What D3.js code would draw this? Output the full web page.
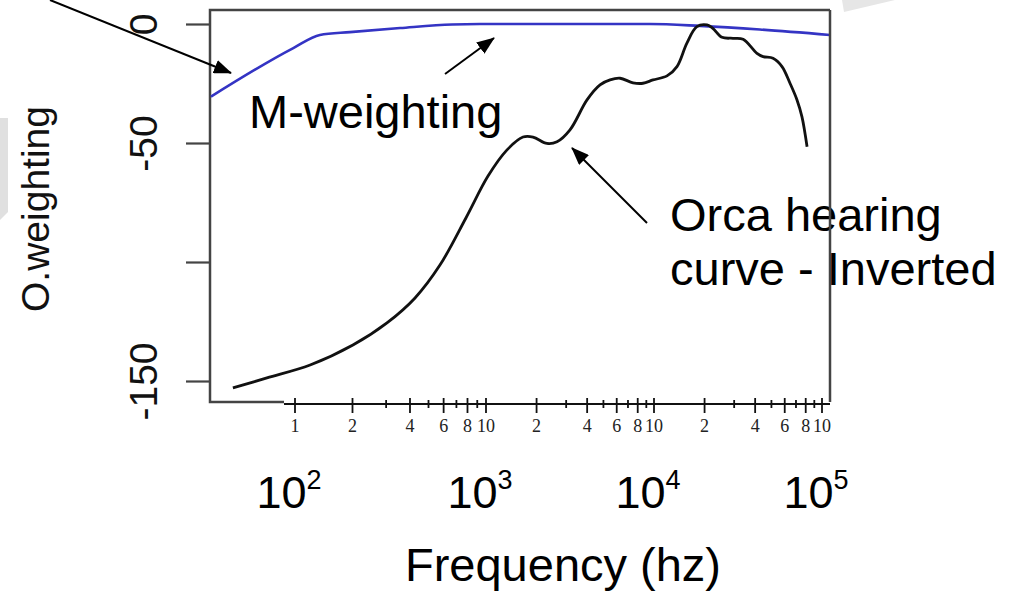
<!DOCTYPE html>
<html><head><meta charset="utf-8">
<script src="https://cdn.jsdelivr.net/npm/d3@7"></script>
<style>body{margin:0;background:#fff;} svg{display:block;}</style>
</head><body>
<svg id="c" width="1022" height="593"></svg>
<script>
// ---- data ----
const mFreq   = [36.3, 98, 135, 194, 355, 664, 930, 9460, 18800, 42700, 111600];
const mWeight = [-30.5, -10.1, -4.6, -3.4, -1.7, -0.2, 0, 0, -0.8, -2.3, -4.6];

const orcaFreq = [47.3, 71.3, 120, 201, 303, 425, 574, 785, 1028, 1334, 1660, 1905, 2307, 2647, 3162, 3993, 4772, 5475, 6280, 7500, 8600, 9870, 11950, 13700, 15700, 18000, 20700, 22400, 25400, 29500, 33900, 41000, 44600, 51100, 57800, 64500, 71000, 76000, 81500];
const orcaWeight = [-152.9, -148.7, -143.3, -134.9, -125.6, -115.1, -101.3, -81.5, -63.9, -52.9, -47.5, -47.5, -50.2, -49.5, -44.5, -31.9, -25.6, -23.5, -22.8, -24.7, -24.9, -23.5, -21.8, -17.9, -8.0, -1.1, -0.4, -1.8, -5.6, -6.0, -6.4, -12.3, -13.7, -14.4, -17.9, -24.9, -31.9, -39.0, -51.6];

const yTicks = [0, -50, -100, -150];
const yTickLabels = ["0", "-50", "", "-150"];
const decades = [100, 1000, 10000, 100000];
const decadeExp = ["2", "3", "4", "5"];
const mults = [1, 2, 3, 4, 5, 6, 7, 8, 9];
const labeledMults = [2, 4, 6, 8];

// ---- layout ----
const svg = d3.select("#c");
const box = {l: 210, t: 10, r: 830, b: 402};
const axisY = 404;

const x = d3.scaleLog().domain(decades).range([295, 486, 654, 822]);
const y = d3.scaleLinear().domain([-150, 0]).range([381, 24]);

const sans = "'Liberation Sans', Arial, Helvetica, sans-serif";
const serif = "'Liberation Serif', 'Times New Roman', serif";

// faint watermark shapes
svg.append("path").attr("d", "M0,118 L8,118 L8,212 L0,220 Z").attr("fill", "#e0e0e0");
svg.append("path").attr("d", "M842,0 L895,0 L844,12 Z").attr("fill", "#e6e6e6");

// frame (left, top, bottom stub)
const frame = svg.append("g").attr("stroke", "#444").attr("stroke-width", 2.5).attr("fill", "none");
frame.append("path").attr("d", `M${box.r},${box.t} L${box.l},${box.t} L${box.l},${box.b} L284,${box.b}`);

// y ticks
const yAxis = d3.axisLeft(y).tickValues(yTicks).tickSize(24).tickFormat((d, i) => yTickLabels[i]);
const gy = svg.append("g").attr("transform", `translate(${box.l},0)`).call(yAxis);
gy.select(".domain").remove();
gy.selectAll(".tick line").attr("stroke", "#444").attr("stroke-width", 2.2);
gy.selectAll(".tick text")
  .attr("font-family", sans).attr("font-size", 39).attr("fill", "#111")
  .attr("text-anchor", "middle").attr("dy", null).attr("x", null)
  .attr("transform", "translate(-53,0) rotate(-90)");

// y title
svg.append("text").attr("transform", "translate(49,209) rotate(-90)")
  .attr("text-anchor", "middle").attr("font-family", sans).attr("font-size", 39).attr("fill", "#111")
  .text("O.weighting");

// curves
svg.append("path").datum(mFreq.map((f, i) => [f, mWeight[i]]))
  .attr("d", d3.line().x(d => x(d[0])).y(d => y(d[1])).curve(d3.curveMonotoneX))
  .attr("fill", "none").attr("stroke", "#3434c4").attr("stroke-width", 2.6).attr("stroke-linejoin", "round");
svg.append("path").datum(orcaFreq.map((f, i) => [f, orcaWeight[i]]))
  .attr("d", d3.line().x(d => x(d[0])).y(d => y(d[1])).curve(d3.curveCatmullRom.alpha(0.5)))
  .attr("fill", "none").attr("stroke", "#111").attr("stroke-width", 2.8).attr("stroke-linejoin", "round");

// pasted log axis
const allTicks = [];
decades.slice(0, 3).forEach(d => mults.forEach(m => allTicks.push({v: d * m, m: m, first: d === 100})));
allTicks.push({v: 100000, m: 10});
const gx = svg.append("g");
gx.append("line").attr("x1", 284).attr("x2", box.r).attr("y1", axisY).attr("y2", axisY)
  .attr("stroke", "#111").attr("stroke-width", 2);
const isMajor = t => t.m === 1 || t.m === 10 || labeledMults.includes(t.m);
gx.selectAll("line.tk").data(allTicks).join("line").attr("class", "tk")
  .attr("x1", t => x(t.v)).attr("x2", t => x(t.v))
  .attr("y1", t => isMajor(t) ? axisY - 6 : axisY - 4)
  .attr("y2", t => isMajor(t) ? axisY + 9 : axisY + 4)
  .attr("stroke", "#111").attr("stroke-width", 1.8);
const labTicks = allTicks.filter(isMajor)
  .map(t => ({v: t.v, s: (t.m === 1 && t.first) ? "1" : (t.m === 1 || t.m === 10) ? "10" : String(t.m)}));
gx.selectAll("text").data(labTicks).join("text")
  .attr("x", t => x(t.v)).attr("y", 432).attr("text-anchor", "middle")
  .attr("font-family", serif).attr("font-size", 18).attr("fill", "#222")
  .text(t => t.s);

// decade labels
const dl = svg.append("g").attr("font-family", sans).attr("fill", "#000");
decades.forEach((d, i) => {
  const t = dl.append("text").attr("x", x(d) - 6).attr("y", 508).attr("text-anchor", "middle").attr("font-size", 45);
  t.append("tspan").text("10");
  t.append("tspan").attr("font-size", 27).attr("dy", -19).text(decadeExp[i]);
});

// x title
svg.append("text").attr("x", 563).attr("y", 581).attr("text-anchor", "middle")
  .attr("font-family", sans).attr("font-size", 47).attr("fill", "#000").text("Frequency (hz)");

// annotations
const ann = svg.append("g").attr("font-family", sans).attr("font-size", 47).attr("fill", "#000");
ann.append("text").attr("x", 249).attr("y", 128).text("M-weighting");
ann.append("text").attr("x", 670).attr("y", 231).text("Orca hearing");
ann.append("text").attr("x", 670).attr("y", 285).text("curve - Inverted");

// right frame edge drawn over the text
svg.append("line").attr("x1", box.r).attr("x2", box.r).attr("y1", box.t).attr("y2", box.b)
  .attr("stroke", "#444").attr("stroke-width", 2.5);

// arrows
svg.append("defs").append("marker").attr("id", "ah").attr("viewBox", "0 0 18 14")
  .attr("refX", 17).attr("refY", 7).attr("markerWidth", 18).attr("markerHeight", 14)
  .attr("markerUnits", "userSpaceOnUse").attr("orient", "auto")
  .append("path").attr("d", "M0,0 L18,7 L0,14 Z").attr("fill", "#000");
const arrows = [[50, 0, 231, 73], [445, 74, 494, 38], [647, 223, 572, 148]];
svg.selectAll("line.arr").data(arrows).join("line").attr("class", "arr")
  .attr("x1", a => a[0]).attr("y1", a => a[1]).attr("x2", a => a[2]).attr("y2", a => a[3])
  .attr("stroke", "#000").attr("stroke-width", 2).attr("marker-end", "url(#ah)");
</script>
</body></html>
